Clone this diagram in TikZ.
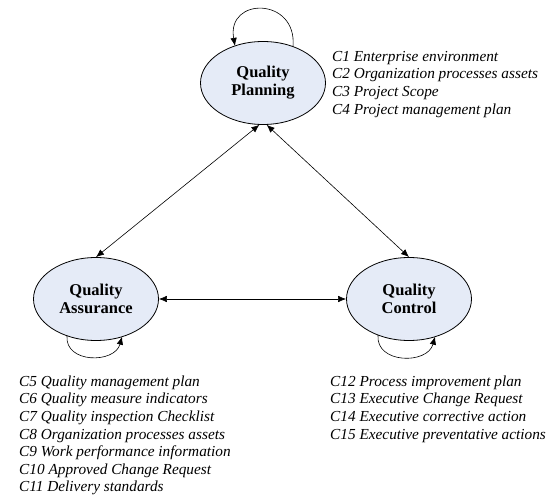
\documentclass[tikz,border=0pt]{standalone}
\usepackage{fontspec}
\setmainfont{Liberation Serif}
\usepackage{tikz}
\usetikzlibrary{shapes.geometric,arrows.meta}
\definecolor{qmfill}{RGB}{229,235,247}

\begin{document}
\begin{tikzpicture}[x=1pt,y=1pt,
    process/.style={ellipse,draw,fill=qmfill,line width=0.8pt,minimum width=125pt,minimum height=83pt,inner sep=0pt,align=center,font=\fontsize{16.5}{18}\selectfont\bfseries},
    notes/.style={anchor=north west,inner sep=0pt,align=left,font=\fontsize{15.3}{17.6}\selectfont\itshape},
    flow/.style={line width=0.6pt,{Latex[length=8pt,width=6.5pt]}-{Latex[length=8pt,width=6.5pt]}},
    selfloop/.style={line width=0.6pt,-{Latex[length=8pt,width=6.5pt]}}]
    \useasboundingbox (0,0) rectangle (548,498);

    % Processes
    \node[process] (plan) at (263,415) {Quality\\Planning};
    \node[process] (assur) at (96,199) {Quality\\Assurance};
    \node[process] (ctrl) at (409,199) {Quality\\Control};

    % Links
    \draw[flow] (plan.265) -- (assur.north);
    \draw[flow] (plan.275) -- (ctrl.north);
    \draw[flow] (assur.east) -- (ctrl.west);

    % Loops
    \draw[selfloop] ([shift={(30,36.4)}]plan.center) to[out=85,in=100,looseness=2.2] ([shift={(-28,37.1)}]plan.center);
    \draw[selfloop] ([shift={(-29,-36.7)}]assur.center) to[out=265,in=255,looseness=1.3] ([shift={(26,-37.7)}]assur.center);
    \draw[selfloop] ([shift={(-31,-36)}]ctrl.center) to[out=265,in=255,looseness=1.3] ([shift={(26,-37.7)}]ctrl.center);

    % Inputs
    \node[notes] (planin) at (332,447) {C1 Enterprise environment\\C2 Organization processes assets\\C3 Project Scope\\C4 Project management plan};
    \node[notes] (assurin) at (19,122.5) {C5 Quality management plan\\C6 Quality measure indicators\\C7 Quality inspection Checklist\\C8 Organization processes assets\\C9 Work performance information\\C10 Approved Change Request\\C11 Delivery standards};
    \node[notes] (ctrlin) at (330,122.5) {C12 Process improvement plan\\C13 Executive Change Request\\C14 Executive corrective action\\C15 Executive preventative actions};
\end{tikzpicture}
\end{document}
